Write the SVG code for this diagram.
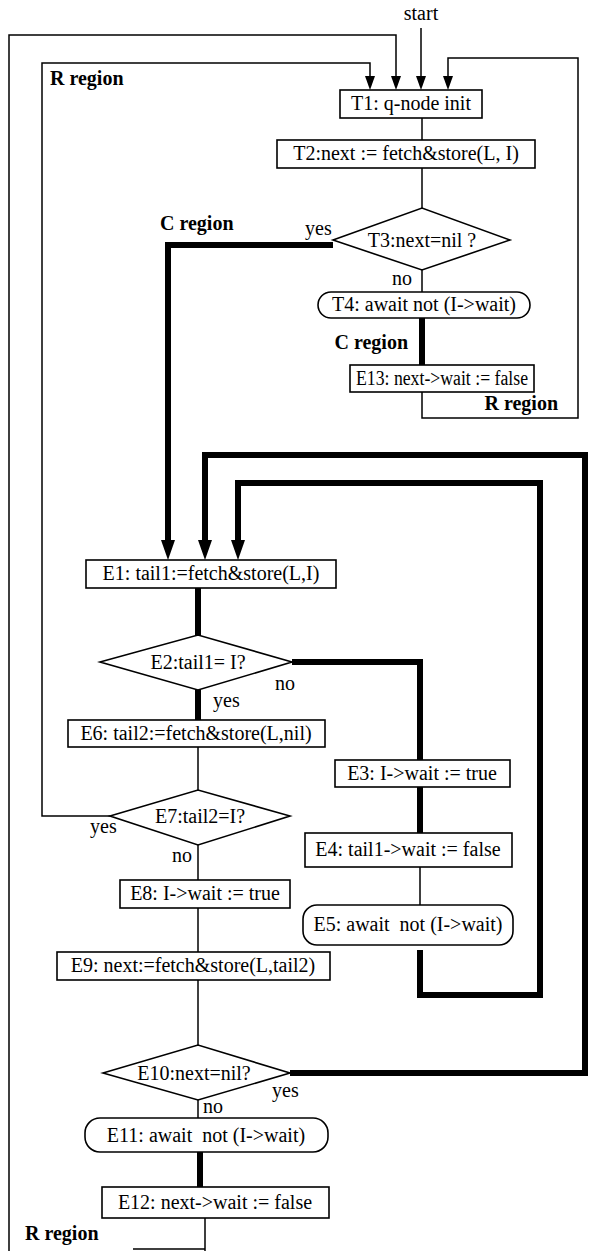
<svg xmlns="http://www.w3.org/2000/svg" width="589" height="1251" viewBox="0 0 589 1251">
<style>
text{font-family:"Liberation Serif","Times New Roman",serif;font-size:20px;fill:#000;white-space:pre}
.b{font-weight:bold}
.m{text-anchor:middle}
.e{text-anchor:end}
.box{fill:#fff;stroke:#000;stroke-width:1.6}
.t{fill:none;stroke:#000;stroke-width:1.5}
.k{fill:none;stroke:#000;stroke-width:6}
</style>
<defs>
<marker id="a" viewBox="0 0 14 10" refX="6" refY="5" markerWidth="14" markerHeight="10" markerUnits="userSpaceOnUse" orient="auto"><path d="M0,0 L14,5 L0,10 z" fill="#000"/></marker>
<marker id="A" viewBox="0 0 20 14" refX="8" refY="7" markerWidth="20" markerHeight="14" markerUnits="userSpaceOnUse" orient="auto"><path d="M0,0 L20,7 L0,14 z" fill="#000"/></marker>
</defs>
<rect width="589" height="1251" fill="#fff"/>
<g id="connectors">
<path class="t" d="M421 28 V82" marker-end="url(#a)"/>
<path class="t" d="M9 1251 V35 H396 V82" marker-end="url(#a)"/>
<path class="t" d="M110 816 H42 V63 H370 V82" marker-end="url(#a)"/>
<path class="t" d="M422 392 V418 H578 V58 H448 V82" marker-end="url(#a)"/>
<path class="t" d="M422 118 V140"/>
<path class="t" d="M422 168 V208"/>
<path class="t" d="M422 270 V292"/>
<path class="t" d="M198 747 V790"/>
<path class="t" d="M198 845 V880"/>
<path class="t" d="M198 908 V952"/>
<path class="t" d="M198 980 V1045"/>
<path class="t" d="M198 1100 V1118"/>
<path class="t" d="M420 867 V905"/>
<path class="t" d="M205 1218 V1251 M133 1249 H205"/>
<path class="k" d="M333 245 H168 V548" marker-end="url(#A)"/>
<path class="k" d="M422 318 V365"/>
<path class="k" d="M290 1073 H585 V455 H205 V548" marker-end="url(#A)"/>
<path class="k" d="M420 950 V995 H540 V483 H238 V548" marker-end="url(#A)"/>
<path class="k" d="M198 588 V635"/>
<path class="k" d="M292 662 H420 V760"/>
<path class="k" d="M198 690 V720"/>
<path class="k" d="M420 787 V833"/>
<path class="k" d="M200 1152 V1187"/>
</g>
<g id="labels">
<text x="421" y="20" class="m">start</text>
<text x="50" y="85" class="b">R region</text>
<text x="160" y="230" class="b">C region</text>
<text x="305" y="235">yes</text>
<text x="392" y="285">no</text>
<text x="408" y="349" class="b e">C region</text>
<text x="558" y="410" class="b e">R region</text>
<text x="275" y="690">no</text>
<text x="213" y="707">yes</text>
<text x="90" y="833">yes</text>
<text x="172" y="862">no</text>
<text x="272" y="1097">yes</text>
<text x="203" y="1113">no</text>
<text x="25" y="1240" class="b">R region</text>
</g>
<g id="T1"><rect class="box" x="340" y="90" width="142" height="28"/><text x="411" y="110" class="m">T1: q-node init</text></g>
<g id="T2"><rect class="box" x="277" y="140" width="258" height="28"/><text x="406" y="160" class="m">T2:next := fetch&amp;store(L, I)</text></g>
<g id="T3"><polygon class="box" points="333,240 422,208 510,240 422,270"/><text x="422" y="247" class="m">T3:next=nil ?</text></g>
<g id="T4"><rect class="box" x="318" y="292" width="212" height="26" rx="13"/><text x="424" y="311" class="m">T4: await not (I-&gt;wait)</text></g>
<g id="E13"><rect class="box" x="350" y="365" width="184" height="27"/><text x="442" y="385" class="m" textLength="172" lengthAdjust="spacingAndGlyphs">E13: next-&gt;wait := false</text></g>
<g id="E1"><rect class="box" x="86" y="560" width="250" height="28"/><text x="211" y="580" class="m">E1: tail1:=fetch&amp;store(L,I)</text></g>
<g id="E2"><polygon class="box" points="100,662 198,635 292,662 198,690"/><text x="198" y="669" class="m">E2:tail1= I?</text></g>
<g id="E6"><rect class="box" x="68" y="720" width="257" height="27"/><text x="196" y="740" class="m">E6: tail2:=fetch&amp;store(L,nil)</text></g>
<g id="E3"><rect class="box" x="335" y="760" width="175" height="27"/><text x="422" y="780" class="m">E3: I-&gt;wait := true</text></g>
<g id="E7"><polygon class="box" points="110,816 198,790 290,816 198,845"/><text x="200" y="823" class="m">E7:tail2=I?</text></g>
<g id="E4"><rect class="box" x="305" y="833" width="207" height="34"/><text x="408" y="856" class="m">E4: tail1-&gt;wait := false</text></g>
<g id="E8"><rect class="box" x="120" y="880" width="170" height="28"/><text x="205" y="900" class="m">E8: I-&gt;wait := true</text></g>
<g id="E5"><rect class="box" x="303" y="905" width="210" height="40" rx="14"/><text x="408" y="931" class="m">E5: await  not (I-&gt;wait)</text></g>
<g id="E9"><rect class="box" x="57" y="952" width="273" height="28"/><text x="193" y="972" class="m">E9: next:=fetch&amp;store(L,tail2)</text></g>
<g id="E10"><polygon class="box" points="103,1073 198,1045 290,1073 198,1100"/><text x="194" y="1080" class="m">E10:next=nil?</text></g>
<g id="E11"><rect class="box" x="85" y="1118" width="243" height="34" rx="15"/><text x="206" y="1142" class="m">E11: await  not (I-&gt;wait)</text></g>
<g id="E12"><rect class="box" x="102" y="1187" width="227" height="31"/><text x="215" y="1209" class="m">E12: next-&gt;wait := false</text></g>
</svg>
